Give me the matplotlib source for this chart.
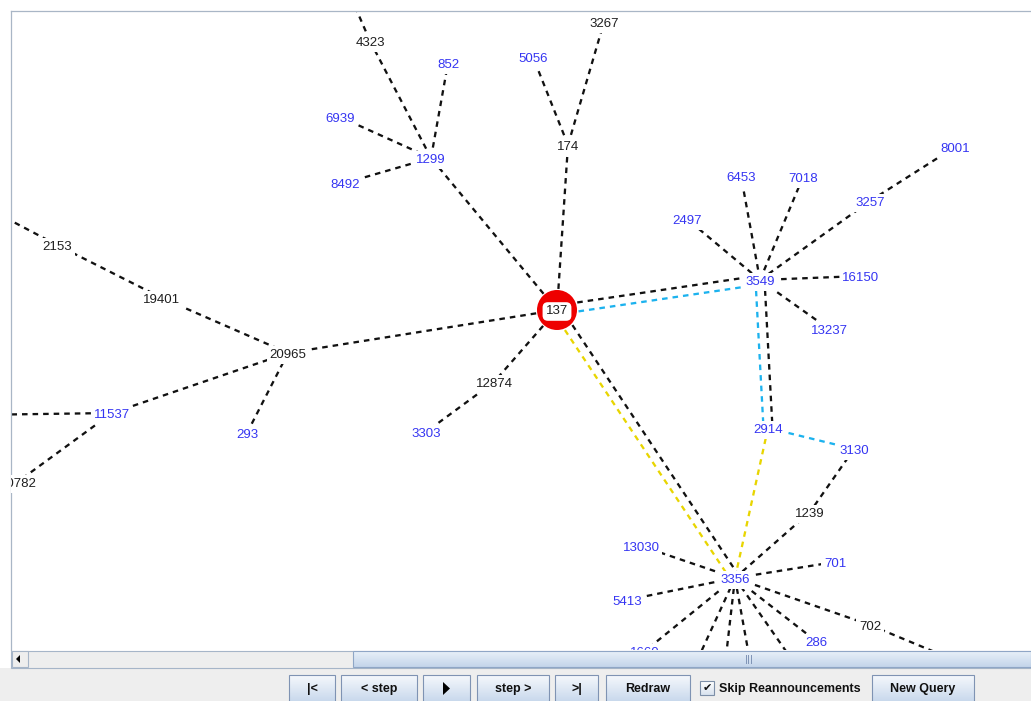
import numpy as np
import matplotlib
matplotlib.use('Agg')
import matplotlib.pyplot as plt
from matplotlib.colors import to_rgb
from matplotlib.patches import Rectangle, Circle, Polygon

plt.rcParams['font.family'] = ['Liberation Sans', 'DejaVu Sans']
plt.rcParams['lines.scale_dashes'] = False

# AS nodes shown in the panel and where they sit in the layout
node_names = ['137', '174', '3267', '5056', '1299', '4323', '852', '6939', '8492',
              '20965', '19401', '2153', '11537', '20782', '293', '12874', '3303',
              '3549', '2497', '6453', '7018', '3257', '8001', '16150', '13237',
              '2914', '3130', '1239', '3356', '13030', '701', '5413', '702', '286', '1660']
node_x = [557, 568, 604, 533, 431, 370, 448, 340, 345,
          288, 162, 57, 112, 17.5, 247, 494, 426,
          760, 687, 741, 803, 870, 955, 861, 829,
          768, 854, 810, 735, 641, 835, 627, 870, 816, 645]
node_y = [310, 145, 22, 57, 158, 41, 63, 117, 183,
          353, 298, 245, 413, 482, 433, 382, 432,
          280, 219, 176, 177, 201, 147, 276, 329,
          428, 449, 512, 578, 546, 562, 600, 625, 641, 651]
black_label_nodes = ['137', '174', '3267', '4323', '20965', '19401', '2153',
                     '20782', '12874', '1239', '702']

# neighbours that lie outside the visible part of the panel
hidden_names = ['up4323', 'left2153', 'left11537', 'right702', 'down1', 'down2', 'down3', 'down4']
hidden_x = [350, -30, -30, 1050, 679, 721, 757, 820]
hidden_y = [-5, 199, 415, 700, 700, 700, 700, 700]

black_edges = [
    ('137', '174'), ('174', '3267'), ('174', '5056'),
    ('137', '1299'), ('1299', '4323'), ('4323', 'up4323'), ('1299', '852'),
    ('1299', '6939'), ('1299', '8492'),
    ('137', '20965'), ('20965', '19401'), ('19401', '2153'), ('2153', 'left2153'),
    ('20965', '11537'), ('20965', '293'), ('11537', 'left11537'), ('11537', '20782'),
    ('137', '12874'), ('12874', '3303'),
    ('137', '3549'), ('3549', '2497'), ('3549', '6453'), ('3549', '7018'),
    ('3549', '3257'), ('3257', '8001'), ('3549', '16150'), ('3549', '13237'),
    ('3549', '2914'),
    ('3130', '1239'), ('1239', '3356'), ('137', '3356'),
    ('3356', '13030'), ('3356', '701'), ('3356', '5413'), ('3356', '1660'),
    ('3356', '702'), ('702', 'right702'), ('3356', '286'),
    ('3356', 'down1'), ('3356', 'down2'), ('3356', 'down3'), ('3356', 'down4'),
]
cyan_path = ['137', '3549', '2914', '3130']
yellow_path = ['137', '3356', '2914']

BLACK = '#111111'
CYAN = '#1cb2ee'
YELLOW = '#e8d500'
BLUE_TXT = '#3535f2'
DARK_TXT = '#1e1e1e'

W, H = 1031, 701
fig = plt.figure(figsize=(W / 100, H / 100), dpi=100)
fig.patch.set_facecolor('white')

# window chrome (scrollbar + button bar) in pixel coordinates
ui = fig.add_axes([0, 0, 1, 1], zorder=0)
ui.axis('off')


def gradient_rect(ax, x0, y0, x1, y1, top, bottom, edge, z=1):
    cols = np.linspace(to_rgb(top), to_rgb(bottom), 32)[:, None, :]
    ax.imshow(cols, extent=(x0, x1, y1, y0), origin='upper', aspect='auto',
              interpolation='bilinear', zorder=z)
    ax.add_patch(Rectangle((x0, y0), x1 - x0, y1 - y0, fill=False, ec=edge, lw=0.8, zorder=z + 0.1))


ui.add_patch(Rectangle((0, 668), W, H - 668, fc='#eeeeee', ec='none', zorder=0))
# scrollbar
ui.add_patch(Rectangle((11, 650.5), W - 11, 17, fc='#eeeeee', ec='#a6b5c8', lw=0.8, zorder=1))
ui.add_patch(Rectangle((11.5, 651), 16.5, 16, fc='#eeeeee', ec='#a6b5c8', lw=0.8, zorder=1.2))
ui.add_patch(Polygon([(20, 655), (16, 659), (20, 663)], closed=True, fc='black', ec='none', zorder=1.3))
gradient_rect(ui, 353, 651, W - 0.5, 667, '#e8f0f9', '#c4d5ea', '#8fa6c6', z=1.5)
for gx in (745.5, 748, 750.5):
    ui.plot([gx, gx], [655, 663], color='#7f93b5', lw=0.7, zorder=2)

# button bar
buttons = [('|<', 289, 335), ('< step', 341, 417), ('', 423, 470), ('step >', 477, 549),
           ('>|', 555, 598), ('Redraw', 606, 690), ('New Query', 872, 974)]
for label, bx0, bx1 in buttons:
    gradient_rect(ui, bx0, 675, bx1, 702, '#f5f8fc', '#c8d8ec', '#7f93b3', z=2)
    if label:
        ui.text((bx0 + bx1) / 2, 689, label, ha='center', va='center', fontsize=9,
                fontweight='bold', color='#111111', zorder=3)
ui.add_patch(Polygon([(443, 682), (450, 688.5), (443, 695)], closed=True, fc='black', ec='none', zorder=3))
gradient_rect(ui, 700, 681, 714, 695, '#ffffff', '#d9e3ef', '#7d8fa8', z=2)
ui.text(707, 688.5, '\u2714', ha='center', va='center', fontsize=8, family='DejaVu Sans',
        color='#111111', zorder=3)
ui.text(719, 689, 'Skip Reannouncements', ha='left', va='center', fontsize=9,
        fontweight='bold', color='#111111', zorder=3)

ui.set_xlim(0, W)
ui.set_ylim(H, 0)

# graph panel
px0, py0, px1, py1 = 11, 11, 1031, 650
g = fig.add_axes([px0 / W, 1 - py1 / H, (px1 - px0) / W, (py1 - py0) / H], zorder=2)
g.set_facecolor('white')
g.set_xticks([])
g.set_yticks([])
for s in ['right', 'bottom']:
    g.spines[s].set_visible(False)
for s in ['top', 'left']:
    g.spines[s].set_color('#a9b6c6')
    g.spines[s].set_linewidth(0.9)

pos = dict(zip(node_names, zip(node_x, node_y)))
pos.update(zip(hidden_names, zip(hidden_x, hidden_y)))

edge_colors = {}
for a, b in black_edges:
    edge_colors[(a, b)] = [BLACK]
for colour, path in ((CYAN, cyan_path), (YELLOW, yellow_path)):
    for a, b in zip(path[:-1], path[1:]):
        if (a, b) in edge_colors:
            edge_colors[(a, b)].append(colour)
        elif (b, a) in edge_colors:
            edge_colors[(b, a)].append(colour)
        else:
            edge_colors[(a, b)] = [colour]

for (a, b), cols in edge_colors.items():
    (xa, ya), (xb, yb) = pos[a], pos[b]
    dx, dy = xb - xa, yb - ya
    L = np.hypot(dx, dy)
    nx, ny = -dy / L, dx / L
    offs = (np.arange(len(cols)) - (len(cols) - 1) / 2) * 9
    for c, o in zip(cols, offs):
        g.plot([xa + nx * o, xb + nx * o], [ya + ny * o, yb + ny * o], color=c,
               lw=1.65, dashes=(4.0, 3.6), dash_capstyle='butt', zorder=1)

# origin AS
g.add_patch(Circle(pos['137'], 20, fc='#ee0000', ec='none', zorder=3))
g.text(pos['137'][0], pos['137'][1] + 4.5, '137', ha='center', va='baseline', fontsize=9.5,
       color=DARK_TXT, zorder=5,
       bbox=dict(fc='white', ec='none', boxstyle='round,pad=0.25,rounding_size=0.4'))

for name, x, y in zip(node_names, node_x, node_y):
    if name == '137':
        continue
    col = DARK_TXT if name in black_label_nodes else BLUE_TXT
    g.text(x, y + 4.6, name, ha='center', va='baseline', fontsize=9.5, color=col,
           zorder=4, clip_on=True,
           bbox=dict(fc='white', ec='none', boxstyle='square,pad=0.22'))

g.set_xlim(px0, px1)
g.set_ylim(py1, py0)

fig.savefig('out.png', dpi=100)
